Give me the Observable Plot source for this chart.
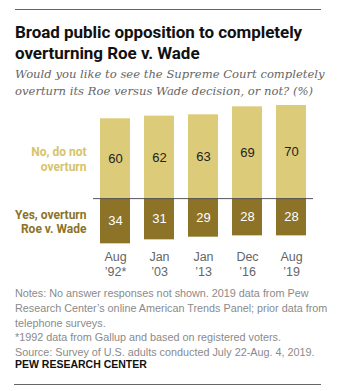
<!DOCTYPE html>
<html>
<head>
<meta charset="utf-8">
<script src="https://cdn.jsdelivr.net/npm/d3@7"></script>
<script src="https://cdn.jsdelivr.net/npm/@observablehq/plot@0.6"></script>
<style>
  body { margin: 0; background: #fff; }
  #wrap { width: 364px; height: 391px; position: relative; overflow: hidden; }
  #title { position: absolute; left: 15px; top: 9px; width: 306px; padding-top: 12px; border-top: 1px solid #666; font-family: "Roboto", sans-serif; font-weight: 700; font-size: 17px; line-height: 21px; color: #111; letter-spacing: -0.05px; }
  #subtitle { position: absolute; left: 15px; top: 66px; font-family: "DejaVu Serif", serif; font-style: italic; font-size: 11.6px; line-height: 17px; color: #666; }
  #chart { position: absolute; left: 0; top: 100px; }
  #notes { position: absolute; left: 15px; top: 286px; font-family: "Liberation Sans", Arial, sans-serif; font-size: 10.8px; line-height: 14.8px; color: #8a8a8a; }
  #pew { position: absolute; left: 14px; top: 358px; width: 306px; padding-left: 1px; height: 26px; border-bottom: 1px solid #666; font-family: "Liberation Sans", Arial, sans-serif; font-weight: 700; font-size: 10.5px; color: #111; }
</style>
</head>
<body>
<div id="wrap">
  <div id="title">Broad public opposition to completely<br>overturning Roe v. Wade</div>
  <div id="subtitle">Would you like to see the Supreme Court completely<br>overturn its Roe versus Wade decision, or not? (%)</div>
  <div id="chart"></div>
  <div id="notes">Notes: No answer responses not shown. 2019 data from Pew<br>Research Center’s online American Trends Panel; prior data from<br>telephone surveys.<br>*1992 data from Gallup and based on registered voters.<br>Source: Survey of U.S. adults conducted July 22-Aug. 4, 2019.</div>
  <div id="pew">PEW RESEARCH CENTER</div>
</div>
<script>
const dates = ["Aug\n’92*", "Jan\n’03", "Jan\n’13", "Dec\n’16", "Aug\n’19"];
const noValues = [60, 62, 63, 69, 70];
const yesValues = [34, 31, 29, 28, 28];
const seriesLabels = ["No, do not\noverturn", "Yes, overturn\nRoe v. Wade"];
const lightColor = "#dccb78";
const darkColor = "#8c7327";

const noData = dates.map((d, i) => ({date: d, value: noValues[i]}));
const yesData = dates.map((d, i) => ({date: d, value: -yesValues[i]}));

const chart = Plot.plot({
  width: 364,
  height: 180,
  marginLeft: 93,
  marginRight: 51,
  marginTop: 5,
  marginBottom: 34,
  x: {domain: dates, paddingInner: 0.32, paddingOuter: 0.12, axis: null},
  y: {domain: [-36, 70], axis: null},
  marks: [
    Plot.barY(noData, {x: "date", y: "value", fill: lightColor}),
    Plot.barY(yesData, {x: "date", y: "value", fill: darkColor}),
    Plot.ruleY([0], {stroke: "#555", strokeWidth: 1}),
    Plot.text(noData, {x: "date", y: d => d.value / 2, text: d => String(d.value), fill: "#222", fontSize: 13, fontFamily: "Liberation Sans, Arial, sans-serif"}),
    Plot.text(yesData, {x: "date", y: d => d.value / 2, text: d => String(-d.value), fill: "#fff", fontSize: 13, fontFamily: "Liberation Sans, Arial, sans-serif"}),
    Plot.text(dates, {x: d => d, text: d => d, frameAnchor: "bottom", lineAnchor: "top", dy: 4, fontSize: 12.5, lineHeight: 1.2, fill: "#666", fontFamily: "Liberation Sans, Arial, sans-serif"}),
    Plot.text([{label: seriesLabels[0], y: noValues[0] / 2}], {y: "y", text: "label", frameAnchor: "left", textAnchor: "end", dx: -7, fill: "#d6c36a", fontWeight: "bold", fontSize: 12, lineHeight: 1.2, fontFamily: "Roboto, sans-serif"}),
    Plot.text([{label: seriesLabels[1], y: -yesValues[0] / 2}], {y: "y", text: "label", frameAnchor: "left", textAnchor: "end", dx: -7, fill: darkColor, fontWeight: "bold", fontSize: 12, lineHeight: 1.2, fontFamily: "Roboto, sans-serif"})
  ]
});
document.getElementById("chart").appendChild(chart);
</script>
</body>
</html>
